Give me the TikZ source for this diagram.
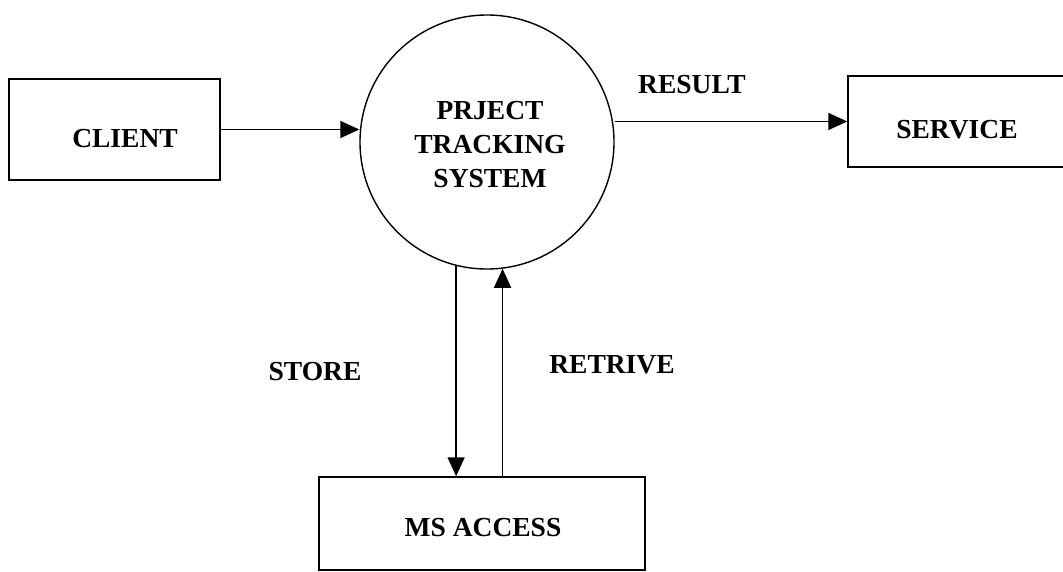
\documentclass[tikz,border=0pt]{standalone}
\usepackage{fontspec}
\setmainfont{Liberation Serif}
\usetikzlibrary{positioning, arrows.meta, calc}

\begin{document}
\begin{tikzpicture}[
  x=1pt, y=-1pt,
  every node/.style={font=\fontsize{27.5}{34}\selectfont\bfseries},
  entity/.style={draw, line width=1.5pt, inner sep=0pt},
  process/.style={draw, circle, line width=1.4pt, minimum size=254pt, inner sep=0pt},
  flow/.style={line width=1.6pt, -{Triangle[length=19pt, width=17pt]}},
]
\useasboundingbox (0,0) rectangle (1063,571);
\clip (0,0) rectangle (1063,571);
% entities and the process
\node[entity, minimum width=211pt, minimum height=101pt] (client) at (114.5,129.5) {};
\node (clienttext) at (125,139) {CLIENT};
\node[process] (ptsys) at (487,142) {};
\node[align=center] (ptsystext) at (490,145) {PRJECT\\TRACKING\\SYSTEM};
\node[entity, minimum width=252pt, minimum height=91pt] (service) at (974,121.5) {};
\node (servicetext) at (957,130) {SERVICE};
\node[entity, minimum width=326pt, minimum height=93pt] (msaccess) at (482,523.5) {};
\node (msaccesstext) at (483,528) {MS ACCESS};
% flows
\draw[flow] (client.east) -- (client.east -| ptsys.west);
\draw[flow] (ptsys.east |- service.west) -- (service.west);
\draw[flow] (ptsys.-104) -- (ptsys.-104 |- msaccess.north);
\draw[flow] (msaccess.north -| ptsys.-83) -- (ptsys.-83);
% flow labels
\node (result) at (692,85) {RESULT};
\node (store) at (315,372) {STORE};
\node (retrive) at (612,365) {RETRIVE};
\end{tikzpicture}
\end{document}
